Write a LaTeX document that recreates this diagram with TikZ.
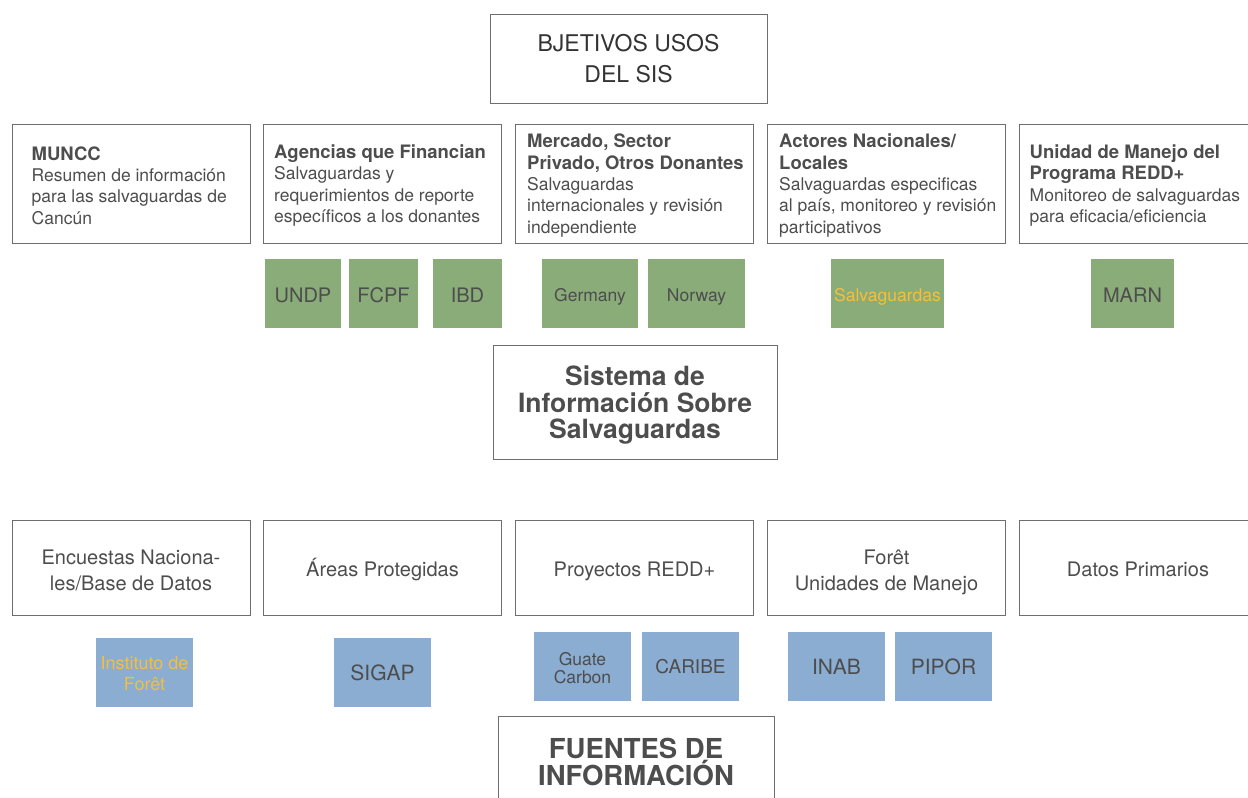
\documentclass[tikz,border=0pt]{standalone}
\usepackage{fontspec}
\setmainfont{TeX Gyre Heros}
\definecolor{txtgray}{HTML}{4D4D4D}
\definecolor{linegray}{HTML}{6E6E6E}
\definecolor{donorgreen}{HTML}{89AC79}
\definecolor{sourceblue}{HTML}{8AADD1}
\definecolor{labelyellow}{HTML}{F4BF3D}
\newcommand{\hdtext}[1]{{\bfseries\fontsize{18.5}{21.3}\selectfont #1}}

\begin{document}
\begin{tikzpicture}[x=1pt,y=-1pt,
    box/.style={draw=linegray, line width=1pt, minimum width=238pt, minimum height=119pt, inner sep=0pt},
    rowtwo/.style={box, minimum height=95pt, align=center, text=txtgray, font=\fontsize{20}{26}\selectfont, text height=17.4pt, text depth=0pt},
    twoline/.style={text height=45.4pt, text depth=0pt},
    desc/.style={anchor=west, align=left, inner sep=0pt, text=txtgray, font=\fontsize{17.5}{21.3}\selectfont, yshift=-2pt},
    donor/.style={fill=donorgreen, minimum height=69pt, inner sep=0pt, text=txtgray, font=\fontsize{20}{24}\selectfont, align=center, text height=18.4pt, text depth=0pt},
    smalldonor/.style={font=\fontsize{17.5}{21}\selectfont, text height=16pt},
    source/.style={fill=sourceblue, minimum width=97pt, minimum height=69pt, inner sep=0pt, text=txtgray, font=\fontsize{21}{21}\selectfont, align=center},
    title/.style={align=center, text=txtgray, font=\bfseries\fontsize{26.5}{26.5}\selectfont}]
  \useasboundingbox (0,0) rectangle (1248,798);
  \clip (0,0) rectangle (1248,798);

  \node[box, minimum width=277pt, minimum height=89pt, align=center, text=black!80, font=\fontsize{23}{31}\selectfont] (objetivos) at (628.5,58.5) {BJETIVOS USOS\\DEL SIS};

  % usos del sis
  \node[box] (muncc) at (131,183.5) {};
  \node[box] (agencias) at (382.5,183.5) {};
  \node[box] (mercado) at (634.5,183.5) {};
  \node[box] (actores) at (886.5,183.5) {};
  \node[box] (unidad) at (1138,183.5) {};
  \node[desc] (muncctxt) at ([xshift=20pt]muncc.west) {\hdtext{MUNCC}\\Resumen de información\\para las salvaguardas de\\Cancún};
  \node[desc] (agenciastxt) at ([xshift=11pt]agencias.west) {\hdtext{Agencias que Financian}\\Salvaguardas y\\requerimientos de reporte\\específicos a los donantes};
  \node[desc] (mercadotxt) at ([xshift=12pt]mercado.west) {\hdtext{Mercado, Sector}\\\hdtext{Privado, Otros Donantes}\\Salvaguardas\\internacionales y revisión\\independiente};
  \node[desc] (actorestxt) at ([xshift=12pt]actores.west) {\hdtext{Actores Nacionales/}\\\hdtext{Locales}\\Salvaguardas especificas\\al país, monitoreo y revisión\\participativos};
  \node[desc] (unidadtxt) at ([xshift=11pt]unidad.west) {\hdtext{Unidad de Manejo del}\\\hdtext{Programa REDD+}\\Monitoreo de salvaguardas\\para eficacia/eficiencia};

  \node[donor, minimum width=76pt] (undp) at (303,293.5) {UNDP};
  \node[donor, minimum width=69pt] (fcpf) at (383.5,293.5) {FCPF};
  \node[donor, minimum width=69pt] (ibd) at (467.5,293.5) {IBD};
  \node[donor, smalldonor, minimum width=96pt] (germany) at (590,293.5) {Germany};
  \node[donor, smalldonor, minimum width=97pt] (norway) at (696.5,293.5) {Norway};
  \node[donor, smalldonor, minimum width=113pt, text=labelyellow] (salvag) at (887.5,293.5) {Salvaguardas};
  \node[donor, minimum width=83pt] (marn) at (1132.5,293.5) {MARN};

  \node[box, minimum width=284pt, minimum height=114pt, title, text height=73pt, text depth=0pt] (sis) at (635,402) {Sistema de\\Información Sobre\\Salvaguardas};

  % fuentes
  \node[rowtwo, twoline] (encuestas) at (131,567.5) {Encuestas Naciona-\\les/Base de Datos};
  \node[rowtwo] (areas) at (382.5,567.5) {Áreas Protegidas};
  \node[rowtwo] (proyectos) at (634.5,567.5) {Proyectos REDD+};
  \node[rowtwo, twoline] (foret) at (886.5,567.5) {Forêt\\Unidades de Manejo};
  \node[rowtwo] (datos) at (1138,567.5) {Datos Primarios};

  \node[source, font=\fontsize{18}{21}\selectfont, text=labelyellow, text height=36pt, text depth=0pt] (instituto) at (144.5,672.5) {Instituto de\\Forêt};
  \node[source] (sigap) at (382.5,672.5) {SIGAP};
  \node[source, font=\fontsize{17.5}{18}\selectfont, text height=33.6pt, text depth=0pt] (guate) at (582.5,666.5) {Guate\\Carbon};
  \node[source, font=\fontsize{19}{21}\selectfont] (caribe) at (690.5,666.5) {CARIBE};
  \node[source] (inab) at (836.5,666.5) {INAB};
  \node[source] (pipor) at (943.5,666.5) {PIPOR};

  \node[box, minimum width=276pt, minimum height=130pt, anchor=north] (fuentes) at (636,716) {};
  \node[title, font=\bfseries\fontsize{27.5}{27}\selectfont] (fuentestxt) at (636,761.5) {FUENTES DE\\INFORMACIÓN};
\end{tikzpicture}
\end{document}
